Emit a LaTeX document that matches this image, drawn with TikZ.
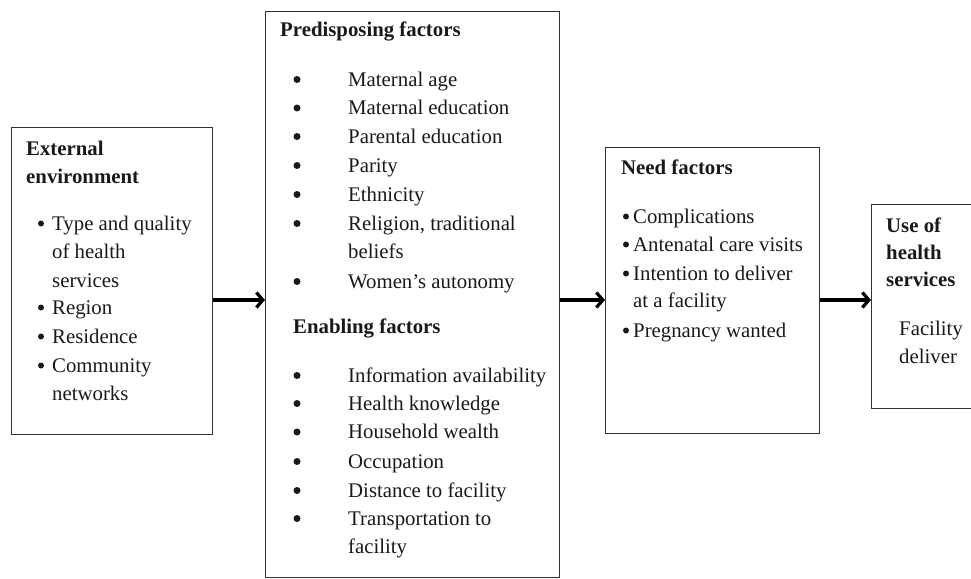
\documentclass[tikz,border=0pt]{standalone}
\usepackage{fontspec}
\setmainfont{Liberation Serif}
\usetikzlibrary{arrows.meta}
\begin{document}
\begin{tikzpicture}[x=1pt,y=-1pt,
  frame/.style={draw=black!80,line width=1.3pt,inner sep=0pt,anchor=north west},
  txt/.style={inner sep=0pt,anchor=base west,font=\fontsize{20.8}{28.8}\selectfont,text=black!90},
  hd/.style={txt,font=\fontsize{20.8}{28.8}\selectfont\bfseries},
  bul/.style={circle,fill=black!90,inner sep=0pt,minimum size=6pt},
  bigbul/.style={bul,minimum size=7pt},
  arr/.style={line width=3.4pt,-{Straight Barb[length=6.5pt,width=15pt,line width=3.2pt]}}]
\useasboundingbox (0,0) rectangle (971,578);
% boxes
\node[frame,minimum width=201pt,minimum height=307pt] (b1) at (11,127) {};
\node[frame,minimum width=294pt,minimum height=566pt] (b2) at (265,11) {};
\node[frame,minimum width=214pt,minimum height=286pt] (b3) at (605,147) {};
\node[frame,minimum width=110pt,minimum height=204pt] (b4) at (871,204) {};
% box 1
\node[hd] (h1a) at (26,155) {External};
\node[hd] (h1b) at (26,183) {environment};
\foreach \y [count=\i] in {230,314,343,372}
  \node[bul] (b1d\i) at (41,\y-6.5) {};
\foreach \t/\y [count=\i] in {Type and quality/230,of health/258,services/287,Region/314,Residence/343,Community/372,networks/400}
  \node[txt] (b1t\i) at (52,\y) {\t};
% box 2
\node[hd] (h2a) at (280,37) {Predisposing factors};
\foreach \y [count=\i] in {86,114.5,143,172,201,230,288}
  \node[bigbul] (b2d\i) at (297,\y-6.5) {};
\foreach \t/\y [count=\i] in {Maternal age/86,Maternal education/114.5,Parental education/143,Parity/172,Ethnicity/201,{Religion, traditional}/230,beliefs/258.5,Women’s autonomy/288}
  \node[txt] (b2t\i) at (348,\y) {\t};
\node[hd] (h2b) at (293,333) {Enabling factors};
\foreach \y [count=\i] in {382,410,438.5,468,497,525}
  \node[bigbul] (b2e\i) at (297,\y-6.5) {};
\foreach \t/\y [count=\i] in {Information availability/382,Health knowledge/410,Household wealth/438.5,Occupation/468,Distance to facility/497,Transportation to/525,facility/553}
  \node[txt] (b2u\i) at (348,\y) {\t};
% box 3
\node[hd] (h3) at (621,174) {Need factors};
\foreach \y [count=\i] in {223,251,280,337}
  \node[bul] (b3d\i) at (626,\y-6.5) {};
\foreach \t/\y [count=\i] in {Complications/223,Antenatal care visits/251,Intention to deliver/280,at a facility/307.5,Pregnancy wanted/337}
  \node[txt] (b3t\i) at (633,\y) {\t};
% box 4
\foreach \t/\y [count=\i] in {Use of/232,health/259,services/286}
  \node[hd] (h4\i) at (886,\y) {\t};
\node[txt] (b4t1) at (899,335) {Facility};
\node[txt] (b4t2) at (899,363) {deliver};
% arrows
\coordinate (ay) at (0,300);
\draw[arr] (b1.east |- ay) -- (b2.west |- ay);
\draw[arr] (b2.east |- ay) -- (b3.west |- ay);
\draw[arr] (b3.east |- ay) -- (b4.west |- ay);
\end{tikzpicture}
\end{document}
